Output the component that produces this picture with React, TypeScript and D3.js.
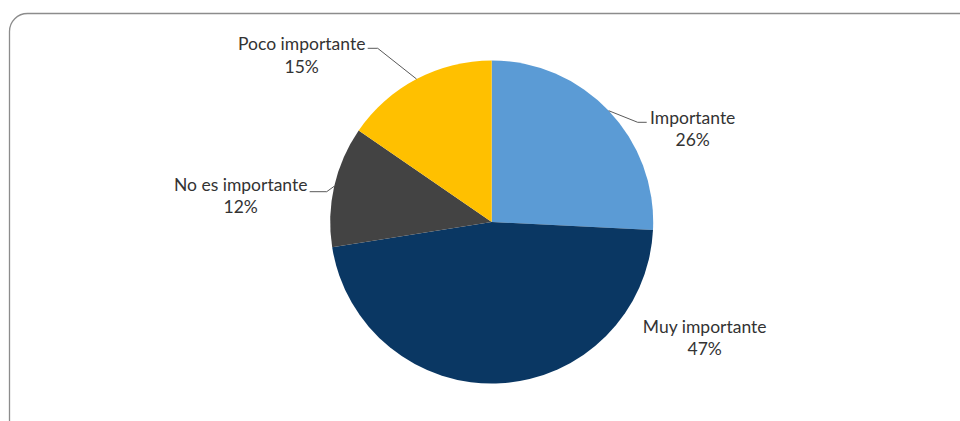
import React from "react";
import * as d3 from "d3";

const categories = ["Importante", "Muy importante", "No es importante", "Poco importante"];
const values = [25.8, 46.7, 12.1, 15.4];
const colors = ["#5B9BD5", "#0A3763", "#434343", "#FFC000"];

// label layout (relative to pie center): text center x, first baseline y, leader elbow
const labelLayout = [
  { tx: 201, ty: -98.5, elbow: [146, -99.7], end: [155, -99.7], leader: true },
  { tx: 213, ty: 110.7, elbow: [0, 0], end: [0, 0], leader: false },
  { tx: -251, ty: -31.3, elbow: [-165, -30.3], end: [-182, -30.3], leader: true },
  { tx: -190, ty: -172, elbow: [-114, -173.7], end: [-124, -173.7], leader: true },
];

const W = 960;
const H = 421;
const cx = 491.7;
const cy = 222;
const R = 161.5;

export default function App() {
  const data = categories.map((c, i) => ({ c, v: values[i], i }));
  const pie = d3.pie<any>().value((d) => d.v).sort(null);
  const arcs = pie(data);
  const arc = d3.arc<any>().innerRadius(0).outerRadius(R);
  const font = "Lato, 'Open Sans', sans-serif";
  return (
    <svg
      width={W}
      height={H}
      style={{ position: "absolute", left: 0, top: 0, background: "#fff" }}
    >
      <rect x={9.5} y={13.5} width={968} height={424} rx={18} ry={18} fill="#fff" stroke="#8c8c8c" strokeWidth={1.3} />
      <g transform={`translate(${cx},${cy})`}>
        {arcs.map((a, i) => (
          <path key={i} d={arc(a) as string} fill={colors[i]} />
        ))}
        {arcs.map((a, i) => {
          const L = labelLayout[i];
          const mid = (a.startAngle + a.endAngle) / 2;
          const ex = Math.sin(mid) * R;
          const ey = -Math.cos(mid) * R;
          return (
            <g key={"l" + i}>
              {L.leader && (
                <polyline
                  points={`${ex},${ey} ${L.elbow[0]},${L.elbow[1]} ${L.end[0]},${L.end[1]}`}
                  fill="none"
                  stroke="#595959"
                  strokeWidth={1}
                />
              )}
              <text x={L.tx} y={L.ty} textAnchor="middle" fontFamily={font} fontSize={17.5} fill="#333">
                {a.data.c}
              </text>
              <text x={L.tx} y={L.ty + 22.5} textAnchor="middle" fontFamily={font} fontSize={17.5} fill="#333">
                {Math.round(a.data.v)}%
              </text>
            </g>
          );
        })}
      </g>
    </svg>
  );
}
